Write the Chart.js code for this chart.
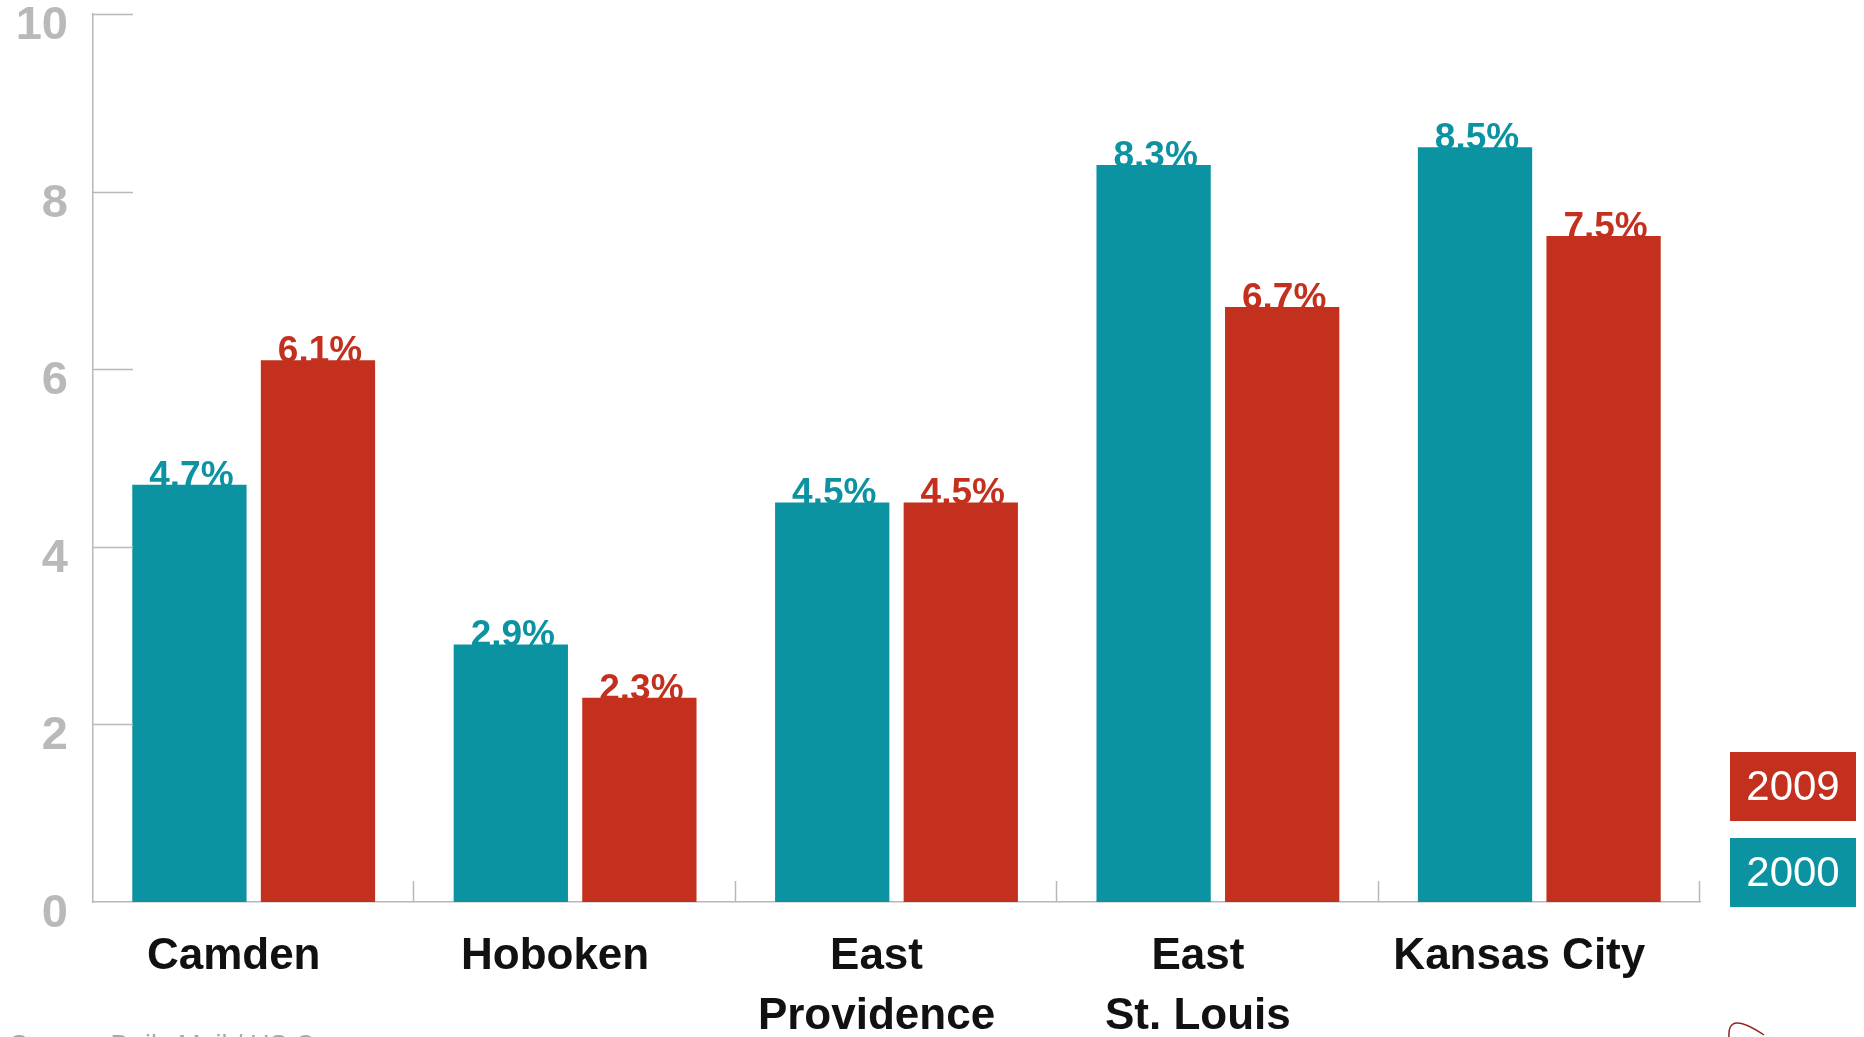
<!DOCTYPE html>
<html>
<head>
<meta charset="utf-8">
<script src="https://cdn.jsdelivr.net/npm/chart.js@4.4.1/dist/chart.umd.min.js"></script>
<style>
  html, body { margin: 0; padding: 0; background: #fff; }
  #wrap { width: 1864px; height: 1037px; position: relative; }
</style>
</head>
<body>
<div id="wrap"><canvas id="rates-chart"></canvas></div>
<script>
const cities = [["Camden"], ["Hoboken"], ["East", "Providence"], ["East", "St. Louis"], ["Kansas City"]];
const rates2000 = [4.7, 2.9, 4.5, 8.3, 8.5];
const rates2009 = [6.1, 2.3, 4.5, 6.7, 7.5];
const yTicks = [0, 2, 4, 6, 8, 10];

const TEAL = "#0b93a2";
const RED = "#c3301e";
const AXIS_GREY = "#b8b8b8";

// short inward tick marks, category separators, value labels, legend boxes
const decorations = {
  id: "decorations",
  beforeDatasetsDraw(chart) {
    const ctx = chart.ctx;
    ctx.save();
    ctx.font = "bold 37px 'Liberation Sans', Arial, sans-serif";
    ctx.textAlign = "center";
    ctx.textBaseline = "alphabetic";
    chart.data.datasets.forEach((ds, i) => {
      const meta = chart.getDatasetMeta(i);
      meta.data.forEach((bar, j) => {
        ctx.fillStyle = ds.backgroundColor;
        ctx.fillText(ds.data[j].toFixed(1) + "%", bar.x + 2, bar.y + 2);
      });
    });
    ctx.restore();
  },
  afterDraw(chart) {
    const ctx = chart.ctx;
    const area = chart.chartArea;
    const x = chart.scales.x;
    const y = chart.scales.y;
    ctx.save();
    ctx.strokeStyle = AXIS_GREY;
    ctx.lineWidth = 1.5;

    // horizontal ticks pointing into the plot
    yTicks.forEach(v => {
      if (v === 0) return;
      const py = Math.round(y.getPixelForValue(v)) + 0.5;
      ctx.beginPath();
      ctx.moveTo(area.left, py);
      ctx.lineTo(area.left + 40, py);
      ctx.stroke();
    });

    // small vertical marks between city groups and at the axis end
    const step = (x.right - x.left) / cities.length;
    for (let i = 1; i <= cities.length; i++) {
      const px = Math.round(x.left + step * i) - 0.5;
      ctx.beginPath();
      ctx.moveTo(px, area.bottom);
      ctx.lineTo(px, area.bottom - 21);
      ctx.stroke();
    }

    // legend boxes, 2009 above 2000
    const boxes = [chart.data.datasets[1], chart.data.datasets[0]];
    const boxTop = [752, 838];
    ctx.font = "42px 'Liberation Sans', Arial, sans-serif";
    ctx.textAlign = "center";
    ctx.textBaseline = "middle";
    boxes.forEach((ds, i) => {
      ctx.fillStyle = ds.backgroundColor;
      ctx.fillRect(1730, boxTop[i], 126, 69);
      ctx.fillStyle = "#ffffff";
      ctx.fillText(ds.label, 1793, boxTop[i] + 36);
    });

    // source line along the bottom edge
    ctx.fillStyle = "#a8a8a8";
    ctx.font = "27px 'Liberation Sans', Arial, sans-serif";
    ctx.textAlign = "left";
    ctx.textBaseline = "alphabetic";
    ctx.fillText("Source: Daily Mail / US Census", 10, 1054);

    // corner swoosh
    ctx.strokeStyle = "#8e2424";
    ctx.lineWidth = 1.5;
    ctx.beginPath();
    ctx.moveTo(1729, 1037);
    ctx.quadraticCurveTo(1727, 1010, 1764, 1035);
    ctx.stroke();
    ctx.restore();
  }
};

const chartData = {
  labels: cities,
  datasets: [
    {
      label: "2000",
      data: rates2000,
      backgroundColor: TEAL,
      borderWidth: 0,
      barPercentage: 0.889,
      categoryPercentage: 0.8,
    },
    {
      label: "2009",
      data: rates2009,
      backgroundColor: RED,
      borderWidth: 0,
      barPercentage: 0.889,
      categoryPercentage: 0.8,
    },
  ],
};

const config = {
  type: "bar",
  data: chartData,
  options: {
    responsive: true,
    maintainAspectRatio: false,
    animation: false,
    layout: {
      padding: { top: 14, right: 164, bottom: 0, left: 0 },
    },
    plugins: {
      legend: { display: false },
      tooltip: { enabled: false },
    },
    scales: {
      x: {
        grid: { display: false, drawTicks: false, tickLength: 0 },
        border: { display: true, color: AXIS_GREY, width: 1.5 },
        ticks: {
          color: "#111111",
          font: { family: "'Liberation Sans', Arial, sans-serif", size: 44, weight: "bold", lineHeight: 1.36 },
          padding: 25,
          labelOffset: -20,
          maxRotation: 0,
          autoSkip: false,
        },
        afterFit(scale) {
          scale.height = 135;
          scale.paddingLeft = 0;
          scale.paddingRight = 0;
        },
      },
      y: {
        min: 0,
        max: 10,
        grid: { display: false, drawTicks: false, tickLength: 0 },
        border: { display: true, color: AXIS_GREY, width: 1.5 },
        ticks: {
          stepSize: 2,
          color: "#b9b9b9",
          font: { family: "'Liberation Sans', Arial, sans-serif", size: 47, weight: "bold" },
          padding: 25,
          labelOffset: 12,
        },
        afterFit(scale) {
          scale.width = 93;
          scale.paddingTop = 0;
          scale.paddingBottom = 0;
        },
      },
    },
  },
  plugins: [decorations],
};

const ctx = document.getElementById("rates-chart").getContext("2d");
const ratesChart = new Chart(ctx, config);
</script>
</body>
</html>
